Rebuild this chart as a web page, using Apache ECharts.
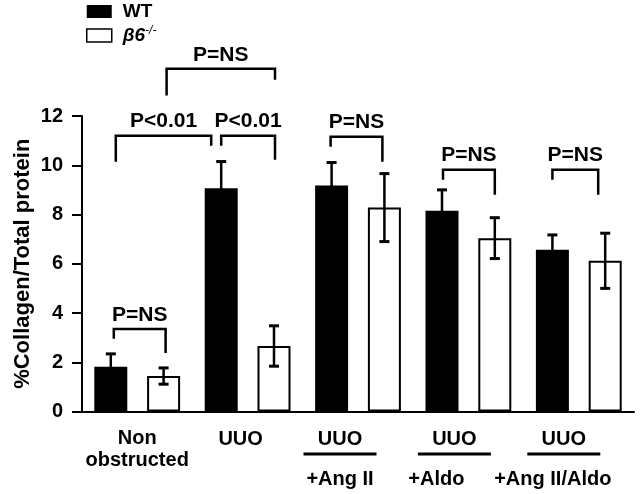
<!DOCTYPE html>
<html><head><meta charset="utf-8">
<script src="https://cdn.jsdelivr.net/npm/echarts@6/dist/echarts.min.js"></script>
<style>html,body{margin:0;padding:0;background:#fff}#c{width:640px;height:494px}</style>
</head><body><div id="c"></div>
<script>
// ---- data ----
const categories = ['Non obstructed', 'UUO', 'UUO +Ang II', 'UUO +Aldo', 'UUO +Ang II/Aldo'];
const seriesNames = ['WT', 'β6-/-'];
const wtMean = [1.82, 9.07, 9.18, 8.15, 6.57];
const wtErr = [0.52, 1.08, 0.93, 0.85, 0.60];
const koMean = [1.44, 2.66, 8.28, 7.04, 6.12];
const koErr = [0.33, 0.82, 1.38, 0.83, 1.12];
const yTicks = [0, 2, 4, 6, 8, 10, 12];
const yTitle = '%Collagen/Total protein';
// significance brackets: [group, series] ends, heights in data units
const bracketText = ['P=NS', 'P<0.01', 'P<0.01', 'P=NS', 'P=NS', 'P=NS', 'P=NS'];
const bracketFrom = [[0, 0], [0, 0], [1, 0], [0, 1], [2, 0], [3, 0], [4, 0]];
const bracketTo = [[0, 1], [1, 0], [1, 1], [1, 1], [2, 1], [3, 1], [4, 1]];
const bracketTop = [3.35, 11.2, 11.2, 13.92, 11.16, 9.82, 9.82];
const bracketFromEnd = [2.95, 10.14, 10.79, 12.83, 10.75, 9.41, 9.41];
const bracketToEnd = [2.38, 10.79, 10.22, 13.47, 10.14, 8.8, 8.8];

// ---- layout / style ----
const FONT = '"Liberation Sans", Arial, Helvetica, sans-serif';
const BAR_W = 33, BAR_GAP = 0.6;
const BAR_OFFSET = BAR_W * (1 + BAR_GAP) / 2;
const nudgeFrom = [3, 5, 0, 3, -1, 1, 0];
const nudgeTo = [2, -10, 1, 1, -2, 0, -7];
const labelPad = [[0, 0, 0, 0], [0, 14, 0, 0], [0, 36, 0, 0], [0, 28, 0, 0], [0, 30, 0, 0]];

const chart = echarts.init(document.getElementById('c'), null, {renderer: 'canvas'});

function errRender(sign) {
  return function (params, api) {
    const i = api.value(0), m = api.value(1), e = api.value(2);
    const x = api.coord([i, m])[0] + sign * BAR_OFFSET;
    const top = api.coord([i, m + e])[1], bot = api.coord([i, m - e])[1];
    const st = {stroke: '#000', lineWidth: 2.5};
    return {type: 'group', children: [
      {type: 'line', shape: {x1: x, y1: top, x2: x, y2: bot}, style: st},
      {type: 'line', shape: {x1: x - 5, y1: top, x2: x + 5, y2: top}, style: {stroke: '#000', lineWidth: 3}},
      {type: 'line', shape: {x1: x - 5, y1: bot, x2: x + 5, y2: bot}, style: {stroke: '#000', lineWidth: 3}}
    ]};
  };
}

function bracketRender(params, api) {
  const k = params.dataIndex;
  const f = bracketFrom[k], t = bracketTo[k];
  const x1 = api.coord([f[0], 0])[0] + (f[1] === 0 ? -1 : 1) * BAR_OFFSET + nudgeFrom[k];
  const x2 = api.coord([t[0], 0])[0] + (t[1] === 0 ? -1 : 1) * BAR_OFFSET + nudgeTo[k];
  const yt = api.coord([f[0], bracketTop[k]])[1];
  const y1 = api.coord([f[0], bracketFromEnd[k]])[1];
  const y2 = api.coord([f[0], bracketToEnd[k]])[1];
  return {type: 'group', children: [
    {type: 'polyline', shape: {points: [[x1, y1], [x1, yt], [x2, yt], [x2, y2]]},
     style: {stroke: '#000', lineWidth: 2.5, fill: null}},
    {type: 'text', style: {text: bracketText[k], x: (x1 + x2) / 2, y: yt - 14,
     align: 'center', verticalAlign: 'middle', fill: '#000',
     font: 'bold 21px ' + FONT}}
  ]};
}

function xFmt(value, index) {
  if (index === 0) {
    const p = value.split(' ');
    return '{n|' + p[0] + '}\n{n2|' + p[1] + '}';
  }
  const parts = value.split(' +');
  if (parts.length === 1) return '{a|' + value + '}';
  return '{a|' + parts[0] + '}\n{u| }\n{b' + index + '|+' + parts[1] + '}';
}

const txt = {fontFamily: FONT, fontWeight: 'bold', fontSize: 20, color: '#000'};

chart.setOption({
  animation: false,
  backgroundColor: '#fff',
  grid: {left: 82, right: 6, top: 116, bottom: 82.5, outerBoundsMode: 'none', containLabel: false},
  legend: {
    orient: 'vertical', left: 81, top: -3, itemWidth: 25, itemHeight: 13, itemGap: 4,
    icon: 'rect', selectedMode: false,
    data: [{name: seriesNames[0]}, {name: seriesNames[1], itemStyle: {borderWidth: 1.5}}],
    formatter: function (n) { return n === seriesNames[0] ? '{w|WT}' : '{i|β6}{s|-/-}'; },
    textStyle: {rich: {
      w: {fontFamily: FONT, fontWeight: 'bold', fontSize: 19, color: '#000', lineHeight: 20, padding: [0, 0, 0, 6]},
      i: {fontFamily: FONT, fontStyle: 'italic', fontWeight: 'bold', fontSize: 19, color: '#000', lineHeight: 20, padding: [0, 0, 0, 6]},
      s: {fontFamily: FONT, fontStyle: 'italic', fontSize: 12, color: '#000', padding: [0, 0, 9, 0]}
    }}
  },
  xAxis: {
    type: 'category',
    data: categories.map(function (c, i) { return {value: c, textStyle: {padding: labelPad[i]}}; }),
    axisLine: {lineStyle: {color: '#000', width: 2}},
    axisTick: {show: false},
    axisLabel: {
      interval: 0, margin: 15, formatter: xFmt, color: '#000',
      rich: {
        n: Object.assign({}, txt, {lineHeight: 24}),
        n2: Object.assign({}, txt, {lineHeight: 19}),
        a: Object.assign({}, txt, {lineHeight: 25}),
        u: {width: 73, height: 3, backgroundColor: '#000', lineHeight: 5, fontSize: 3},
        b2: Object.assign({}, txt, {lineHeight: 46}),
        b3: Object.assign({}, txt, {lineHeight: 46, padding: [0, 36, 0, 0]}),
        b4: Object.assign({}, txt, {lineHeight: 46, padding: [0, 22, 0, 0]})
      }
    }
  },
  yAxis: {
    type: 'value', min: yTicks[0], max: yTicks[yTicks.length - 1], interval: yTicks[1] - yTicks[0],
    name: yTitle, nameLocation: 'middle', nameGap: 48, nameRotate: 90, nameMoveOverlap: false,
    nameTextStyle: {fontFamily: FONT, fontWeight: 'bold', fontSize: 22, color: '#000'},
    axisLine: {show: true, lineStyle: {color: '#000', width: 2}},
    axisTick: {show: true, length: 10, lineStyle: {color: '#000', width: 2}},
    axisLabel: Object.assign({}, txt, {margin: 19}),
    splitLine: {show: false}
  },
  series: [
    {name: seriesNames[0], type: 'bar', data: wtMean, barWidth: BAR_W, barGap: (BAR_GAP * 100) + '%',
     itemStyle: {color: '#000'}},
    {name: seriesNames[1], type: 'bar', data: koMean, barWidth: BAR_W, barGap: (BAR_GAP * 100) + '%',
     itemStyle: {color: '#fff', borderColor: '#000', borderWidth: 2}},
    {type: 'custom', renderItem: errRender(-1), z: 5,
     data: wtMean.map(function (m, i) { return [i, m, wtErr[i]]; })},
    {type: 'custom', renderItem: errRender(1), z: 5,
     data: koMean.map(function (m, i) { return [i, m, koErr[i]]; })},
    {type: 'custom', renderItem: bracketRender, z: 6, clip: false,
     data: bracketTop.map(function (t, k) { return [bracketFrom[k][0], t]; })}
  ]
});
</script></body></html>
